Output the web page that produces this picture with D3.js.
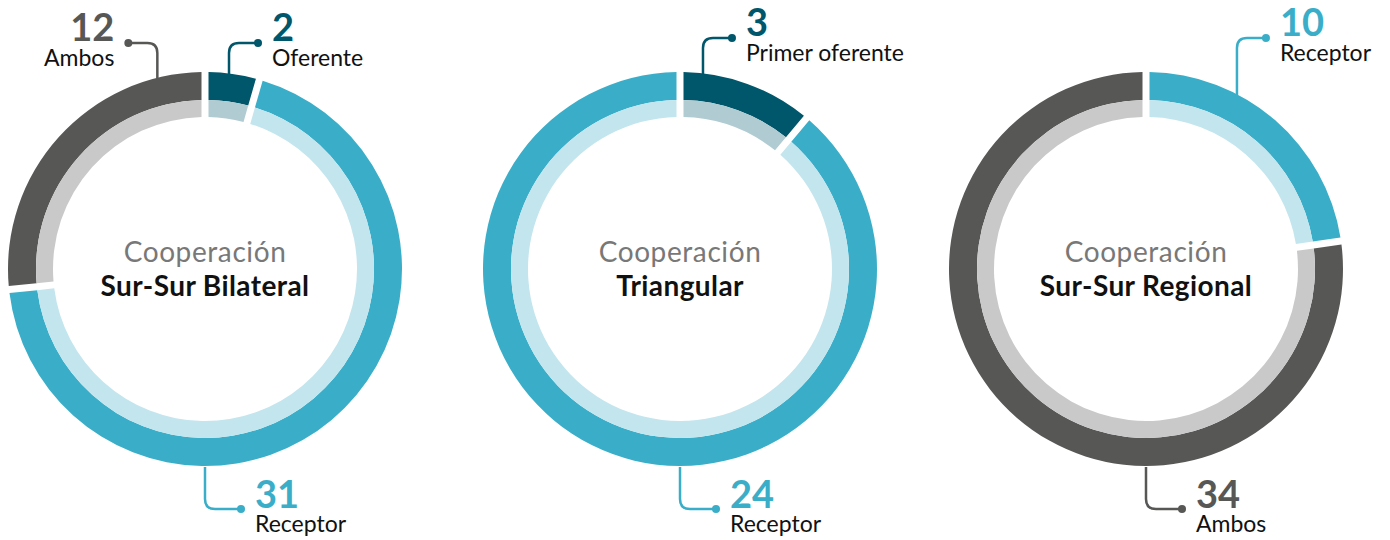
<!DOCTYPE html>
<html>
<head>
<meta charset="utf-8">
<script src="https://cdn.jsdelivr.net/npm/d3@7"></script>
<style>
  body { margin: 0; background: #fff; font-family: Lato, "Open Sans", sans-serif; }
</style>
</head>
<body>
<div id="chart"></div>
<script>
// chart data
const titles = ["Sur-Sur Bilateral", "Triangular", "Sur-Sur Regional"];
const segNames = [
  ["Oferente", "Receptor", "Ambos"],
  ["Primer oferente", "Receptor"],
  ["Receptor", "Ambos"]
];
const segValues = [
  [2, 31, 12],
  [3, 24],
  [10, 34]
];
// angle (degrees clockwise from top) where each label's leader meets the ring
const labelAngles = [
  [7, 180, 346],
  [6.7, 180],
  [27.5, 180]
];

const colors = {
  "Oferente": ["#00566a", "#b0cbd1"],
  "Primer oferente": ["#00566a", "#b0cbd1"],
  "Receptor": ["#3aaec8", "#c3e5ee"],
  "Ambos": ["#575756", "#c9c9c9"]
};

const W = 1390, H = 540;
const centers = [205, 680, 1146];
const topDotY = [43, 38, 38];
const cy = 269;
const rOuter = 197, rMid = 169, rInner = 152;

const svg = d3.select("#chart").append("svg")
  .attr("width", W).attr("height", H);

const pie = d3.pie().sort(null).value(d => d.value);
const arcOuter = d3.arc().innerRadius(rMid).outerRadius(rOuter).padRadius(rOuter).padAngle(7 / rOuter);
const arcInner = d3.arc().innerRadius(rInner).outerRadius(rMid).padRadius(rOuter).padAngle(7 / rOuter);

titles.forEach((title, i) => {
  const data = segNames[i].map((n, j) => ({ name: n, value: segValues[i][j] }));
  const g = svg.append("g").attr("transform", `translate(${centers[i]},${cy})`);
  const arcs = pie(data);

  g.selectAll("path.outer").data(arcs).enter().append("path")
    .attr("class", "outer")
    .attr("d", arcOuter)
    .attr("fill", d => colors[d.data.name][0]);
  g.selectAll("path.inner").data(arcs).enter().append("path")
    .attr("class", "inner")
    .attr("d", arcInner)
    .attr("fill", d => colors[d.data.name][1]);

  // center title
  g.append("text").attr("text-anchor", "middle").attr("y", -7)
    .attr("font-size", 28).attr("letter-spacing", 0.6).attr("fill", "#787878").text("Cooperación");
  g.append("text").attr("text-anchor", "middle").attr("y", 27)
    .attr("font-size", 28).attr("letter-spacing", 0.4).attr("font-weight", 700).attr("fill", "#111").text(title);

  // leader labels
  data.forEach((d, j) => {
    const a = labelAngles[i][j] * Math.PI / 180;
    const ax = rOuter * Math.sin(a), ay = -rOuter * Math.cos(a) + 1;
    const top = ay < 0;
    const dir = ax < -5 ? -1 : 1;
    const dotY = top ? topDotY[i] - cy : 509 - cy;
    const len = top ? 29 : 36;
    const cr = 10;
    const col = colors[d.name][0];
    const vy = top ? dotY + cr : dotY - cr;
    g.append("path")
      .attr("d", `M${ax},${ay} V${vy} Q${ax},${dotY} ${ax + dir * cr},${dotY} H${ax + dir * len}`)
      .attr("fill", "none").attr("stroke", col).attr("stroke-width", 2.5);
    g.append("circle").attr("cx", ax + dir * len).attr("cy", dotY).attr("r", 4).attr("fill", col);
    const tx = ax + dir * (len + 14);
    const anchor = dir < 0 ? "end" : "start";
    g.append("text").attr("x", tx).attr("y", top ? dotY - 2 : dotY - 1)
      .attr("text-anchor", anchor).attr("font-size", 38).attr("font-weight", 700)
      .attr("fill", col).text(d.value);
    g.append("text").attr("x", tx).attr("y", top ? dotY + 23 : dotY + 23)
      .attr("text-anchor", anchor).attr("font-size", 23).attr("fill", "#111").text(d.name);
  });
});
</script>
</body>
</html>
